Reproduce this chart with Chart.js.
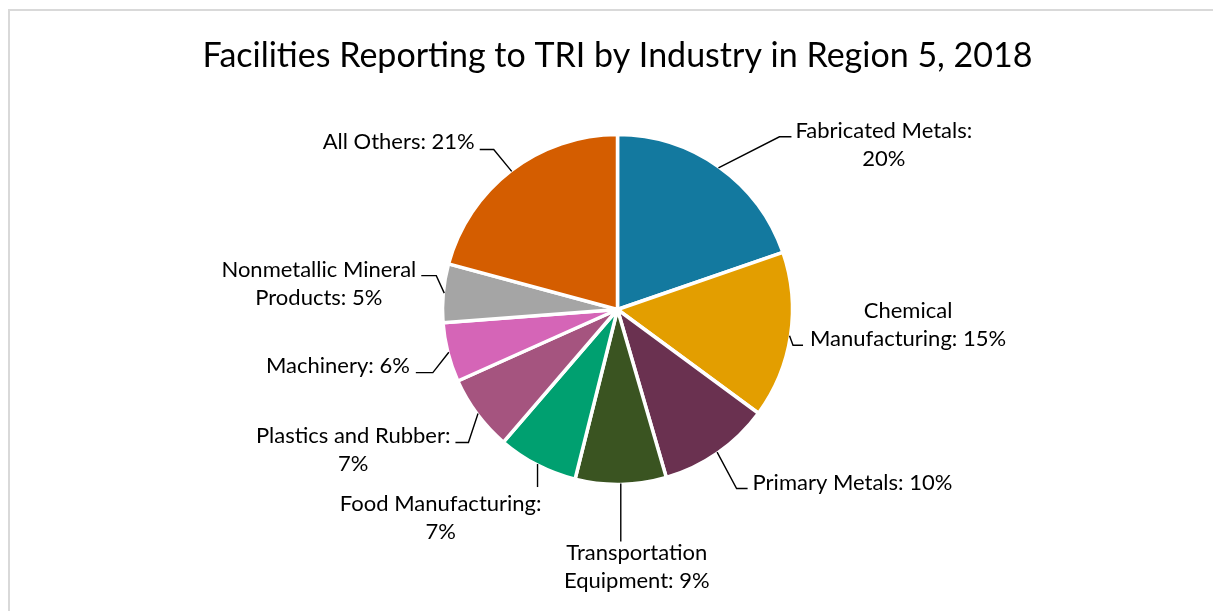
<!DOCTYPE html>
<html>
<head>
<meta charset="utf-8">
<script src="https://cdn.jsdelivr.net/npm/chart.js@4"></script>
<style>
  html, body { margin: 0; padding: 0; background: #ffffff; overflow: hidden; }
  #frame { position: absolute; left: 8px; top: 9px; width: 1300px; height: 700px;
           border-left: 2px solid #d9d9d9; border-top: 2px solid #d9d9d9; box-sizing: border-box; }
  #c { position: absolute; left: 0; top: 0; }
</style>
</head>
<body>
<div id="frame"></div>
<canvas id="c" width="1213" height="611"></canvas>
<script>
// ---- data ----
const categories = [
  'Fabricated Metals', 'Chemical Manufacturing', 'Primary Metals',
  'Transportation Equipment', 'Food Manufacturing', 'Plastics and Rubber',
  'Machinery', 'Nonmetallic Mineral Products', 'All Others'
];
const shares = [19.7, 15.4, 10.4, 8.4, 7.4, 7.0, 5.5, 5.4, 20.8];
const pctLabels = ['20%', '15%', '10%', '9%', '7%', '7%', '6%', '5%', '21%'];
const labelLines = [
  ['Fabricated Metals:', '20%'],
  ['Chemical', 'Manufacturing: 15%'],
  ['Primary Metals: 10%'],
  ['Transportation', 'Equipment: 9%'],
  ['Food Manufacturing:', '7%'],
  ['Plastics and Rubber:', '7%'],
  ['Machinery: 6%'],
  ['Nonmetallic Mineral', 'Products: 5%'],
  ['All Others: 21%']
];
const titleText = 'Facilities Reporting to TRI by Industry in Region 5, 2018';

// ---- styles ----
const colors = ['#13799f', '#e39e00', '#6a3150', '#3a5421', '#00a070',
                '#a5547f', '#d565b7', '#a5a5a5', '#d45d00'];
// [elbowDx, elbowDy, horizLen, side, textDx, firstLineDy]
const labelStyle = [
  [61, -31, 12, 'left', 4, -6],
  [3.5, 9.6, 10, 'left', 7, -34],
  [19.5, 36.4, 11, 'left', 5, -6],
  [0, 58, 0, 'center', 16, 11],
  [0, 23, 0, 'right', 4, 17],
  [-9.6, 29, -13, 'right', -5, -7],
  [-16, 20.4, -17, 'right', -6, -7],
  [-8, -17.5, -15, 'right', -5, -6],
  [-18, -21.8, -14, 'right', -5, -8]
];
const FONT = 'Lato, "Open Sans", sans-serif';
const labelFontSize = 22;
const labelLineHeight = 28;

const leaderPlugin = {
  id: 'leaderLabels',
  afterDatasetsDraw(chart) {
    const ctx = chart.ctx;
    const meta = chart.getDatasetMeta(0);
    ctx.save();
    ctx.font = labelFontSize + 'px ' + FONT;
    ctx.textBaseline = 'middle';
    ctx.fillStyle = '#000000';
    ctx.strokeStyle = '#000000';
    ctx.lineWidth = 1.4;
    meta.data.forEach((arc, i) => {
      const p = arc.getProps(['x', 'y', 'startAngle', 'endAngle', 'outerRadius'], true);
      const mid = (p.startAngle + p.endAngle) / 2;
      const ex = p.x + Math.cos(mid) * (p.outerRadius - 1);
      const ey = p.y + Math.sin(mid) * (p.outerRadius - 1);
      const s = labelStyle[i];
      const bx = ex + s[0], by = ey + s[1];
      const hx = bx + s[2], hy = by;
      ctx.beginPath();
      ctx.moveTo(ex, ey);
      ctx.lineTo(bx, by);
      ctx.lineTo(hx, hy);
      ctx.stroke();
      const lines = labelLines[i];
      const widths = lines.map(t => ctx.measureText(t).width);
      const maxW = Math.max(...widths);
      let cx;
      if (s[3] === 'left') cx = hx + s[4] + maxW / 2;
      else if (s[3] === 'right') cx = hx + s[4] - maxW / 2;
      else cx = hx + s[4];
      ctx.textAlign = 'center';
      lines.forEach((t, k) => {
        ctx.fillText(t, cx, hy + s[5] + k * labelLineHeight);
      });
    });
    ctx.restore();
  }
};

new Chart(document.getElementById('c'), {
  type: 'pie',
  data: {
    labels: categories,
    datasets: [{
      data: shares,
      backgroundColor: colors,
      borderColor: '#ffffff',
      borderWidth: 3.5
    }]
  },
  options: {
    responsive: false,
    animation: false,
    devicePixelRatio: 1,
    radius: 175,
    layout: { padding: { left: 22, right: 0, top: 0, bottom: 121.5 } },
    plugins: {
      legend: { display: false },
      tooltip: { enabled: false },
      title: {
        display: true,
        text: titleText,
        color: '#000000',
        font: { family: FONT, size: 34, weight: 'normal', lineHeight: 1.2 },
        padding: { top: 36, bottom: 52.7 }
      }
    }
  },
  plugins: [leaderPlugin]
});
</script>
</body>
</html>
